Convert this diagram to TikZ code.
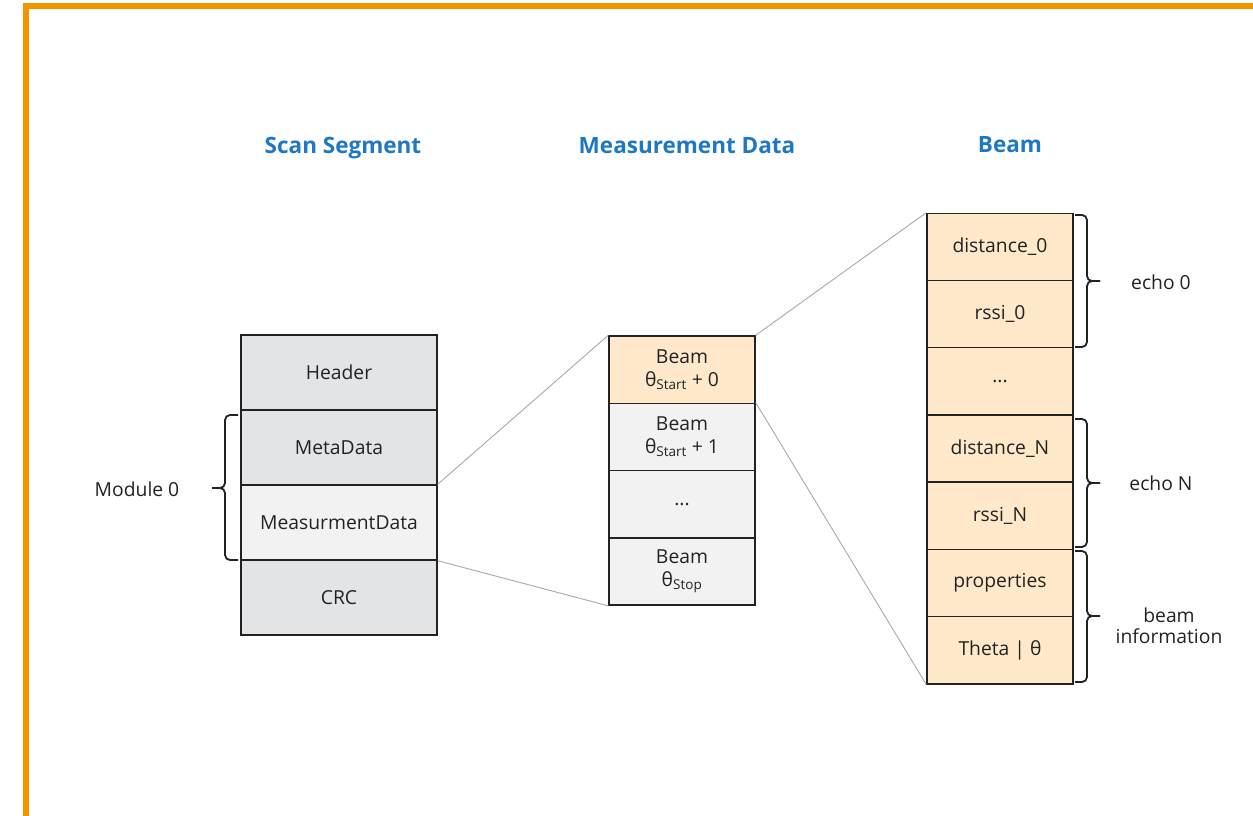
\documentclass[tikz,border=0pt]{standalone}
\usepackage{fontspec}
\setmainfont{Open Sans}
\definecolor{frameorange}{HTML}{F29400}
\definecolor{titleblue}{HTML}{1F78C4}
\definecolor{cellgray}{HTML}{E3E4E6}
\definecolor{celllight}{HTML}{F2F2F2}
\definecolor{cellorange}{HTML}{FFE9CA}
\definecolor{linkgray}{HTML}{A8A8A8}
\definecolor{ink}{HTML}{222222}
\tikzset{
  cell/.style={draw=ink, line width=1.4pt, text=ink, font=\fontsize{19.3}{23}\selectfont,
    align=center, inner sep=0pt, anchor=center},
  wide/.style={cell, minimum width=196pt, minimum height=75pt},
  narrow/.style={cell, minimum width=146pt, minimum height=67.3pt},
  heading/.style={text=titleblue, font=\bfseries\fontsize{22.5}{27}\selectfont},
  label/.style={text=ink, font=\fontsize{19.3}{23}\selectfont, align=center},
  link/.style={draw=linkgray, line width=0.9pt},
  bracer/.style={draw=ink, line width=1.8pt, rounded corners=5pt},
}
\begin{document}
\begin{tikzpicture}[x=1pt, y=-1pt]
\useasboundingbox (0,0) rectangle (1253,816);
% orange frame, running off the right and bottom edges
\begin{scope}
\clip (0,0) rectangle (1253,816);
\draw[frameorange, line width=6pt] (26,830) -- (26,6) -- (1270,6);
\end{scope}

% column headings
\node[heading] (t1) at (343,148) {Scan Segment};
\node[heading] (t2) at (687,146) {Measurement Data};
\node[heading] (t3) at (1010,145) {Beam};

% scan segment column
\node[wide, fill=cellgray]  (hdr)  at (339,372.5) {Header};
\node[wide, fill=cellgray]  (meta) at (339,447.5) {MetaData};
\node[wide, fill=celllight] (meas) at (339,522.5) {MeasurmentData};
\node[wide, fill=cellgray]  (crc)  at (339,597.5) {CRC};

% measurement data column
\node[narrow, fill=cellorange] (b0) at (682,369.6) {Beam\\θ\textsubscript{Start} + 0};
\node[narrow, fill=celllight]  (b1) at (682,436.9) {Beam\\θ\textsubscript{Start} + 1};
\node[narrow, fill=celllight]  (bd) at (682,504.2) {...};
\node[narrow, fill=celllight]  (bs) at (682,571.5) {Beam\\θ\textsubscript{Stop}};

% beam column
\node[narrow, fill=cellorange] (d0) at (1000,247) {distance\_0};
\node[narrow, fill=cellorange] (r0) at (1000,314.2) {rssi\_0};
\node[narrow, fill=cellorange] (dd) at (1000,381.4) {...};
\node[narrow, fill=cellorange] (dn) at (1000,448.6) {distance\_N};
\node[narrow, fill=cellorange] (rn) at (1000,515.8) {rssi\_N};
\node[narrow, fill=cellorange] (pr) at (1000,583) {properties};
\node[narrow, fill=cellorange] (th) at (1000,650.2) {Theta | θ};

% zoom-in links
\draw[link] (meas.north east) -- (b0.north west);
\draw[link] (meas.south east) -- (bs.south west);
\draw[link] (b0.north east) -- (d0.north west);
\draw[link] (b1.north east) -- (th.south west);

% module brace on the left of the scan segment
\draw[bracer] (238,415) -- (225,415) -- (225,488) -- (212,488);
\draw[bracer] (238,560) -- (225,560) -- (225,488) -- (212,488);
\node[label] (mlab) at (137,489) {Module 0};

% braces on the right of the beam column
\draw[bracer] (1075,215) -- (1087,215) -- (1087,281) -- (1100,281);
\draw[bracer] (1075,347) -- (1087,347) -- (1087,281) -- (1100,281);
\node[label] (e0) at (1161,282) {echo 0};

\draw[bracer] (1075,419) -- (1087,419) -- (1087,483) -- (1100,483);
\draw[bracer] (1075,547) -- (1087,547) -- (1087,483) -- (1100,483);
\node[label] (en) at (1161,483) {echo N};

\draw[bracer] (1075,551) -- (1087,551) -- (1087,616) -- (1100,616);
\draw[bracer] (1075,682) -- (1087,682) -- (1087,616) -- (1100,616);
\node[label] (bi) at (1169,626) {beam\\[-2pt]information};
\end{tikzpicture}
\end{document}
